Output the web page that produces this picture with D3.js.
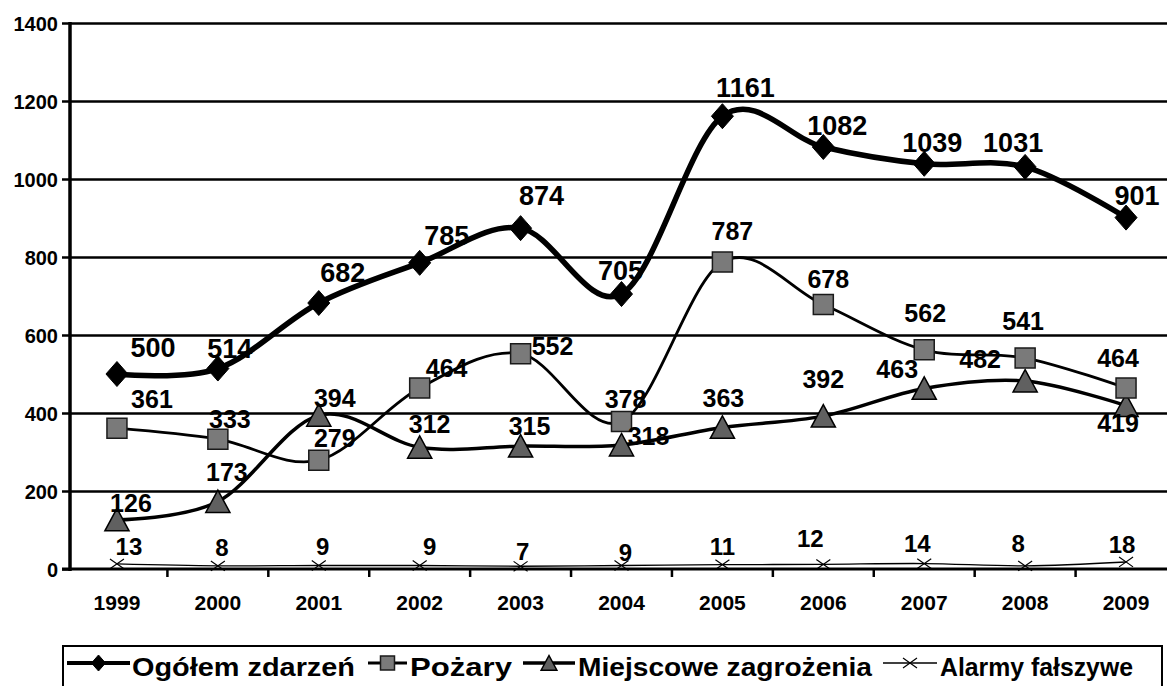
<!DOCTYPE html>
<html>
<head>
<meta charset="utf-8">
<script src="https://cdn.jsdelivr.net/npm/d3@7"></script>
<style>
  body { margin: 0; background: #fff; }
  text { font-family: "Liberation Sans", Arial, sans-serif; font-weight: bold; fill: #000; }
</style>
</head>
<body>
<div id="chart"></div>
<script>
// values
const years = ['1999', '2000', '2001', '2002', '2003', '2004', '2005', '2006', '2007', '2008', '2009'];
const ogolem = [500, 514, 682, 785, 874, 705, 1161, 1082, 1039, 1031, 901];
const pozary = [361, 333, 279, 464, 552, 378, 787, 678, 562, 541, 464];
const miejscowe = [126, 173, 394, 312, 315, 318, 363, 392, 463, 482, 419];
const alarmy = [13, 8, 9, 9, 7, 9, 11, 12, 14, 8, 18];
const yTicks = [0, 200, 400, 600, 800, 1000, 1200, 1400];
const seriesNames = ['Ogółem zdarzeń', 'Pożary', 'Miejscowe zagrożenia', 'Alarmy fałszywe'];

// where Excel put each data label, relative to its point
const labelShift = {
  ogolem: [[36, -17], [12, -11], [24, -21], [27, -18], [21, -23], [-1, -14], [23, -19], [14, -12], [8, -12], [-12, -15], [11, -13]],
  pozary: [[35, -20], [12, -11], [16, -13], [27, -11], [32, 1], [4, -14], [10, -22], [5, -17], [1, -28], [-2, -28], [-8, -21]],
  miejscowe: [[14, -8], [9, -21], [16, -8], [10, -14], [9, -11], [27, 0], [1, -20], [0, -28], [-27, -10], [-45, -13], [-8, 26]],
  alarmy: [[12, -9], [4, -10], [4, -10], [10, -10], [2, -6], [4, -4], [0, -10], [-13, -17], [-7, -12], [-7, -14], [-4, -9]]
};

const width = 1167
const height = 686
const plotLeft = 70
const plotBottom = 569
const plotTop = 23

const svg = d3.select('#chart').append('svg')
  .attr('width', width)
  .attr('height', height)

const x = d3.scaleBand().domain(years).range([66.5, 1176.5]).padding(0)
const cx = d => x(d) + x.bandwidth() / 2
const y = d3.scaleLinear().domain([0, 1400]).range([plotBottom, plotTop])

// gridlines
svg.append('g')
  .attr('transform', `translate(${plotLeft},0)`)
  .call(d3.axisLeft(y).tickValues(yTicks.slice(1)).tickSize(-(width - plotLeft)).tickFormat(''))
  .call(g => g.select('.domain').remove())
  .call(g => g.selectAll('line').attr('stroke', '#000').attr('stroke-width', 2.5))

// y axis
svg.append('g')
  .attr('transform', `translate(${plotLeft},0)`)
  .call(d3.axisLeft(y).tickValues(yTicks).tickFormat(d3.format('d')).tickSize(8).tickPadding(4))
  .call(g => g.select('.domain').remove())
  .call(g => g.selectAll('line').attr('stroke', '#000').attr('stroke-width', 2.5))
  .call(g => g.selectAll('text').style('font-size', '20px').attr('dy', '0.35em'))

svg.append('line')
  .attr('x1', plotLeft).attr('x2', plotLeft)
  .attr('y1', plotTop - 1).attr('y2', plotBottom + 2)
  .attr('stroke', '#000').attr('stroke-width', 3.5)

// x axis
svg.append('line')
  .attr('x1', plotLeft - 8).attr('x2', width)
  .attr('y1', plotBottom).attr('y2', plotBottom)
  .attr('stroke', '#000').attr('stroke-width', 3)

svg.append('g').selectAll('line')
  .data(years.slice(1))
  .join('line')
  .attr('x1', d => x(d)).attr('x2', d => x(d))
  .attr('y1', plotBottom).attr('y2', plotBottom + 8)
  .attr('stroke', '#000').attr('stroke-width', 2.5)

svg.append('g').selectAll('text')
  .data(years)
  .join('text')
  .attr('x', d => cx(d))
  .attr('y', 610)
  .attr('text-anchor', 'middle')
  .style('font-size', '21px')
  .text(d => d)

// marker shapes
const diamond = (w, h) => `M0,${-h}L${w},0L0,${h}L${-w},0Z`
const square = s => `M${-s},${-s}H${s}V${s}H${-s}Z`
const triangle = s => `M0,${-s}L${s * 1.05},${s * 0.95}H${-s * 1.05}Z`
const cross = s => `M${-s},${-s * 0.7}L${s},${s * 0.7}M${-s},${s * 0.7}L${s},${-s * 0.7}`

const series = [
  { key: 'ogolem', values: ogolem, width: 5.5, font: 27,
    marker: diamond(11, 12.5), fill: '#000', stroke: '#000', mw: 1,
    legendMarker: diamond(7, 8) },
  { key: 'pozary', values: pozary, width: 2.8, font: 25,
    marker: square(10), fill: '#7a7a7a', stroke: '#1a1a1a', mw: 1.5,
    legendMarker: square(7) },
  { key: 'miejscowe', values: miejscowe, width: 3.5, font: 25,
    marker: triangle(11.5), fill: '#606060', stroke: '#000', mw: 1.5,
    legendMarker: triangle(7.5) },
  { key: 'alarmy', values: alarmy, width: 1.3, font: 24,
    marker: cross(7), fill: 'none', stroke: '#000', mw: 1.2,
    legendMarker: cross(7) }
]

const line = d3.line()
  .x((d, i) => cx(years[i]))
  .y(d => y(d))
  .curve(d3.curveCatmullRom.alpha(0))

// draw the thin series first so the thick total stays on top
series.slice().reverse().forEach(s => {
  const g = svg.append('g')

  g.append('path')
    .attr('d', line(s.values))
    .attr('fill', 'none')
    .attr('stroke', '#000')
    .attr('stroke-width', s.width)

  g.selectAll('path.m')
    .data(s.values)
    .join('path')
    .attr('class', 'm')
    .attr('transform', (d, i) => `translate(${cx(years[i])},${y(d)})`)
    .attr('d', s.marker)
    .attr('fill', s.fill)
    .attr('stroke', s.stroke)
    .attr('stroke-width', s.mw)
})

series.forEach(s => {
  svg.append('g').selectAll('text')
    .data(s.values)
    .join('text')
    .attr('x', (d, i) => cx(years[i]) + labelShift[s.key][i][0])
    .attr('y', (d, i) => y(d) + labelShift[s.key][i][1])
    .attr('text-anchor', 'middle')
    .style('font-size', s.font + 'px')
    .text(d => d)
})

// legend
const legend = svg.append('g')
legend.append('rect')
  .attr('x', 63).attr('y', 646)
  .attr('width', 1099).attr('height', 60)
  .attr('fill', '#fff')
  .attr('stroke', '#000').attr('stroke-width', 2)

const legendItems = [
  { x1: 67, x2: 130, tx: 132, tl: 223 },
  { x1: 368, x2: 407, tx: 410, tl: 102 },
  { x1: 523, x2: 575, tx: 578, tl: 294 },
  { x1: 883, x2: 937, tx: 940, tl: 193 }
]

legendItems.forEach((it, i) => {
  const s = series[i]
  const ly = 663
  legend.append('line')
    .attr('x1', it.x1).attr('x2', it.x2)
    .attr('y1', ly).attr('y2', ly)
    .attr('stroke', '#000')
    .attr('stroke-width', Math.min(s.width, 4))
  legend.append('path')
    .attr('transform', `translate(${(it.x1 + it.x2) / 2},${ly})`)
    .attr('d', s.legendMarker)
    .attr('fill', s.fill)
    .attr('stroke', s.stroke)
    .attr('stroke-width', s.mw)
  legend.append('text')
    .attr('x', it.tx)
    .attr('y', 676)
    .attr('textLength', it.tl)
    .attr('lengthAdjust', 'spacingAndGlyphs')
    .style('font-size', '25px')
    .text(seriesNames[i])
})
</script>
</body>
</html>
